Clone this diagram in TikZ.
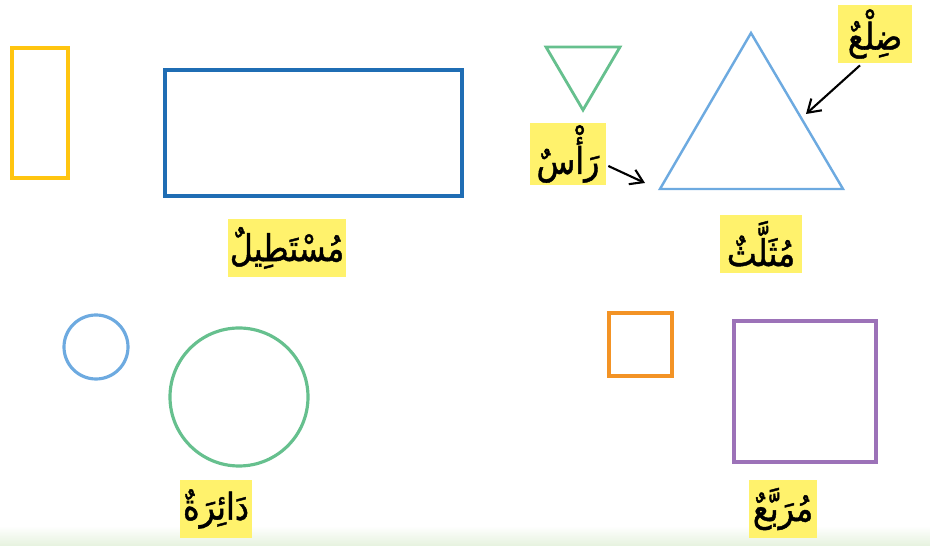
\documentclass[tikz,border=0pt]{standalone}
\usepackage{fontspec}
\newfontfamily\arabicfont[Script=Arabic,FakeStretch=0.86,FakeBold=1.2]{DejaVu Sans}
\TeXXeTstate=1
\usetikzlibrary{arrows.meta}

\definecolor{gold}{HTML}{FFC510}
\definecolor{deepblue}{HTML}{1F6DB4}
\definecolor{skyblue}{HTML}{6DAAE0}
\definecolor{leafgreen}{HTML}{66C08E}
\definecolor{tangerine}{HTML}{F39325}
\definecolor{lilac}{HTML}{9C72B8}
\definecolor{hilite}{HTML}{FFF26C}
\definecolor{paleleaf}{HTML}{E6F2DE}

\begin{document}
\begin{tikzpicture}[x=0.02cm,y=-0.02cm,
  outline/.style={line width=2.2pt},
  lbl/.style={fill=hilite, text=black, inner sep=1pt, minimum height=58*0.02cm,
    font=\arabicfont\fontsize{21}{24}\selectfont},
  pointer/.style={-{Straight Barb[length=7pt,width=9pt]}, line width=1.2pt, black}]

\useasboundingbox (0,0) rectangle (930,546);
\shade[top color=white, bottom color=paleleaf] (0,526) rectangle (930,546);

% rectangles
\draw[outline, gold] (12,48) rectangle (68,178);
\draw[outline, deepblue] (165,70) rectangle (462,196);
\node[lbl, minimum width=118*0.02cm] (mustatil) at (287,248) {\beginR مُسْتَطِيلٌ\endR};

% triangles
\draw[line width=1.6pt, leafgreen] (546,47) -- (620,47) -- (583,110) -- cycle;
\coordinate (a) at (751,33);
\coordinate (b) at (660,189);
\coordinate (c) at (843,189);
\draw[line width=1.4pt, skyblue] (a) -- (b) -- (c) -- cycle;
\node[lbl, minimum width=82*0.02cm] (muthallath) at (761,244) {\beginR مُثَلَّثٌ\endR};

\node[lbl, minimum width=76*0.02cm] (ras) at (568,154) {\beginR رَأْسٌ\endR};
\coordinate (v) at (645,183);
\draw[pointer] (ras.east) ++(2,12) -- (v);

\node[lbl, minimum width=74*0.02cm] (dil) at (875,34) {\beginR ضِلْعٌ\endR};
\coordinate (s) at (806,114);
\draw[pointer] (dil.south) ++(-15,2) -- (s);

% circles
\draw[line width=1.8pt, skyblue] (96,347) circle (32);
\draw[line width=1.8pt, leafgreen] (239,397) circle (69);
\node[lbl, minimum width=72*0.02cm] (daira) at (216,509) {\beginR دَائِرَةٌ\endR};

% squares
\draw[outline, tangerine] (609,313) rectangle (672,376);
\draw[outline, lilac] (734,321) rectangle (876,462);
\node[lbl, minimum width=68*0.02cm] (murabba) at (783,509) {\beginR مُرَبَّعٌ\endR};

\end{tikzpicture}
\end{document}
